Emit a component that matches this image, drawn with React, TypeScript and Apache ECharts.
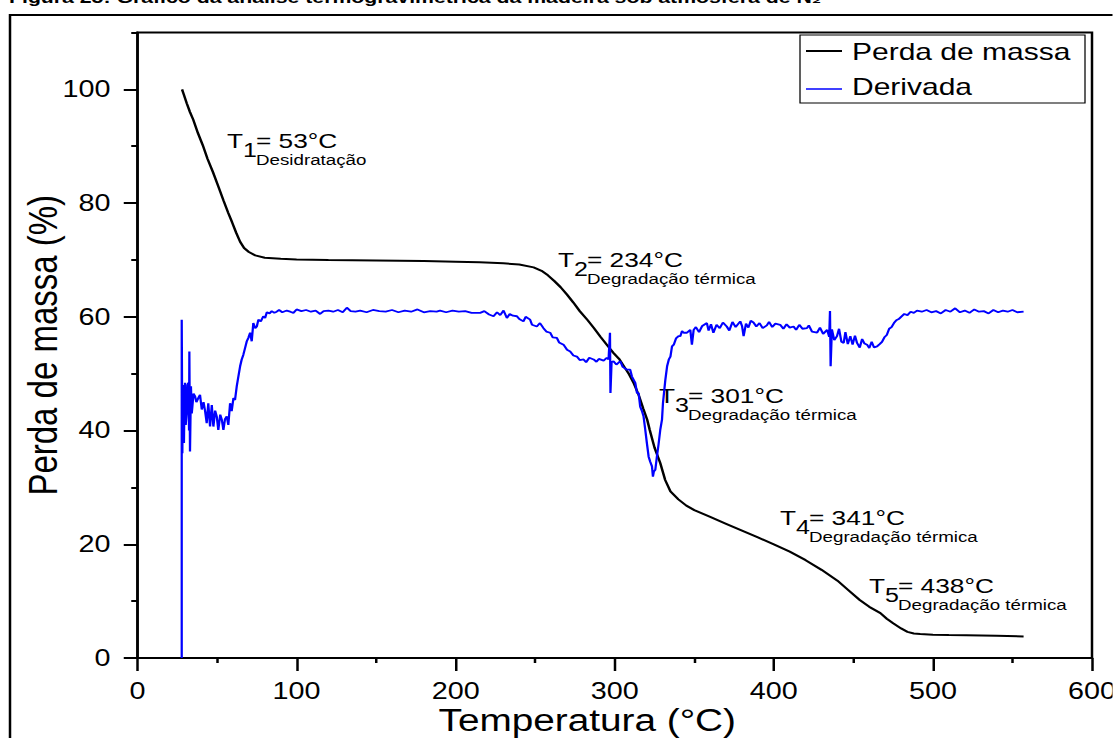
import { useEffect, useRef } from "react";
import * as echarts from "echarts";

// Mass loss (%) versus temperature (°C)
const perdaDeMassa: [number, number][] = [
  [28, 100], [29, 99.2], [31, 97.5], [33, 96], [35, 94.7], [38, 92.3], [41, 90.2], [44, 87.8],
  [47.5, 85.4], [51, 82.8], [54, 80.5], [57, 78.3], [59.5, 76.6], [62, 74.8], [64.5, 73.2],
  [67, 72.1], [70, 71.4], [74, 70.8], [80, 70.4], [90, 70.2], [100, 70.1], [120, 70],
  [150, 69.9], [180, 69.8], [200, 69.7], [215, 69.6], [230, 69.4], [240, 69.2], [249, 68.7],
  [254, 68.1], [258, 67.3], [262, 66.3], [266, 65.2], [270, 63.9], [274, 62.5], [278, 61],
  [283, 59.4], [287, 58], [291, 56.5], [295, 55.1], [299, 53.7], [303, 52.5], [306, 51.2],
  [309, 49.9], [312, 48.3], [315, 46.3], [318, 43.8], [320.4, 41.9], [322, 40.1], [325, 37],
  [328.6, 34.3], [331.7, 31.3], [335, 29.3], [340, 27.9], [345, 26.8], [350, 26], [360, 24.8],
  [370, 23.6], [380, 22.4], [390, 21.2], [400, 20], [410, 18.7], [420, 17.2], [430, 15.5],
  [440, 13.6], [447, 11.9], [454, 10.2], [460, 9], [467, 7.9], [471, 6.9], [475, 6.1],
  [480, 5.2], [484, 4.6], [488, 4.3], [492, 4.2], [500, 4.1], [510, 4.05], [521, 4],
  [540, 3.9], [557, 3.8],
];

// Derivative curve, drawn on the same percentage axis
const derivada: [number, number][] = [
  [27.8, 0], [27.8, 59.5], [28.2, 36], [28.5, 48], [28.8, 43.1], [29.2, 37.8], [29.6, 47],
  [29.9, 48.4], [30.3, 41], [30.9, 43.1], [31.4, 48], [32, 48.4], [32.4, 40], [32.6, 53.9],
  [33, 36.3], [33.6, 47.8], [34.1, 43], [34.5, 44.2], [35.2, 46.5], [36.2, 46], [37, 45],
  [38.2, 45.7], [39.3, 46.3], [40.4, 43.7], [41.5, 45], [42.5, 43.4], [43.5, 41.3], [44.5, 44.8],
  [45.6, 40.7], [46.7, 44.5], [47.7, 40.7], [48.8, 43.5], [49.8, 42.5], [50.8, 40.1], [52, 42.8],
  [53, 41.9], [54, 40.1], [55, 42], [56.1, 42.5], [57.1, 41], [58.2, 44.8], [59.2, 43.4],
  [60.3, 45.7], [61.3, 45.4], [62.4, 47.8], [63.4, 49.5], [64.5, 51.3], [65.5, 52.5],
  [66.5, 53.3], [67.6, 54.5], [68.7, 55.7], [69.7, 56.3], [70.8, 57.2], [71.8, 55.7],
  [72.8, 58.9], [74, 58], [75, 58.3], [76, 59.5], [77.5, 59.2], [79.1, 60.1], [80.2, 59.8],
  [81.3, 60.8], [83, 60.6], [84.4, 61], [86, 60.7], [87.5, 60.9], [89, 61.2], [91, 60.8],
  [93.8, 61.1], [96, 60.9], [98, 60.7], [100, 61.3], [103, 61], [106, 61.2], [109, 60.9],
  [112, 61.1], [114.8, 60.5], [117, 61], [120, 61.1], [123, 60.9], [126, 61.2], [129, 60.8],
  [131.6, 61.6], [134, 61], [137, 60.9], [140, 61.1], [144, 60.8], [148, 61.2], [152, 61],
  [156, 60.9], [160, 61.2], [164, 60.8], [168, 61.1], [172, 60.9], [176, 61.3], [180, 60.8],
  [184, 61], [188, 60.9], [190.2, 61.1], [194, 60.8], [198, 61.1], [202, 60.9], [206, 61],
  [210, 60.7], [215.4, 60.7], [218, 61], [221, 60.4], [223.8, 60.1], [226, 60.8], [228, 60.3],
  [230.1, 61.1], [232.2, 59.8], [234, 60.5], [236, 60.2], [238.5, 60.1], [240, 59.6],
  [242.6, 59.2], [244, 60], [246.8, 59.5], [248, 58.6], [251, 58.3], [253, 58.9], [255.2, 58],
  [257, 57.4], [259.4, 57.2], [261, 56.4], [263.6, 56.3], [265, 55.5], [267.8, 55.1],
  [270, 54.2], [272, 53.9], [274, 53.2], [276.2, 53], [278, 52.4], [280.4, 52.5], [282, 52],
  [284, 52.8], [286.7, 52.5], [288.5, 52.1], [290, 52.6], [293, 52.3], [295, 52.8],
  [296.1, 52.5], [297, 57.2], [297.3, 46.6], [298, 52], [299.2, 52.2], [301, 51.6],
  [303.5, 52.2], [305, 51.2], [307.7, 50.7], [309.7, 50.7], [310.8, 49.5], [312.9, 48.4],
  [314, 46.6], [315, 46.6], [316, 44.2], [317, 43.5], [318.1, 42.5], [319.2, 40.1],
  [320.2, 37.8], [321.3, 35.4], [322.3, 34.5], [323.4, 33.7], [324, 31.9], [324.6, 32.8],
  [325.5, 33.1], [326.5, 35.4], [327.5, 37.5], [328.6, 40.1], [329.7, 41.9], [330.3, 44.8],
  [331.8, 48.9], [332.9, 51.3], [334, 52.5], [335, 53], [336, 54.8], [337.1, 55.1],
  [338.5, 56.2], [340.1, 56.6], [341.2, 56.6], [342.3, 57.5], [343.3, 57.2], [345.4, 57.2],
  [347.5, 57.7], [348.5, 55.1], [349.6, 57.7], [351, 58.2], [353, 57.3], [355, 58.4],
  [357.9, 58.9], [359, 57.6], [360.5, 58.7], [362, 57.2], [364, 58.6], [366, 58], [368, 59],
  [370.4, 58.3], [372, 57.6], [374, 59.1], [376, 58.2], [378.9, 59.2], [380, 58.4], [381, 56.6],
  [382.5, 58.8], [384, 58.1], [385.5, 59.3], [387.2, 59], [389, 58.3], [391, 58.9], [393, 58],
  [395.6, 58.5], [397, 59.1], [399, 58.2], [401, 58.8], [404, 58.6], [406, 57.9], [408, 58.7],
  [410, 58.1], [412.4, 58.3], [414, 57.7], [416, 58.6], [418, 57.9], [420.8, 58], [422, 58.5],
  [424, 57.4], [427.2, 57.2], [429, 58.1], [431, 57], [433.5, 57.7], [434.8, 56.5], [435.3, 61],
  [435.7, 51.3], [436.5, 57.8], [438, 55.9], [439.7, 56.6], [441, 57.9], [442.5, 55.6],
  [443.9, 55.4], [445, 57.3], [446.5, 55.2], [448.1, 56.6], [449.5, 55.1], [451, 56.7],
  [452.3, 55.4], [454, 54.6], [455.5, 56.1], [457, 55.3], [458.6, 55.1], [460, 54.5],
  [461.5, 55.6], [463, 54.6], [464.9, 54.8], [466.5, 55.2], [468, 55.6], [469.5, 56.4],
  [471, 56.8], [472.5, 57.9], [474, 58.2], [475.5, 58.9], [477, 59.4], [478.5, 59.6], [480, 60],
  [482, 60.5], [484, 60.3], [486, 60.9], [488, 60.7], [490, 61.1], [493, 60.9], [496, 61.2],
  [499, 60.8], [502, 61], [505, 60.6], [508, 61.2], [511, 60.9], [514, 61.5], [517, 60.8],
  [520, 61.1], [523, 60.7], [526, 61.3], [529, 60.9], [532, 61], [535, 60.6], [538, 61.2],
  [541, 60.8], [544, 61.1], [547, 60.9], [550, 61.2], [553, 60.8], [557, 60.9],
];

const yMajorTicks = [0, 20, 40, 60, 80, 100];
const yMinorTicks = [10, 30, 50, 70, 90, 110];

// Thermal events: T index, temperature text, stage
const eventoIndice = ["1", "2", "3", "4", "5"];
const eventoValor = ["= 53°C", "= 234°C", "= 301°C", "= 341°C", "= 438°C"];
const eventoEtapa = [
  "Desidratação",
  "Degradação térmica",
  "Degradação térmica",
  "Degradação térmica",
  "Degradação térmica",
];

// The figure is drawn narrow and widened by a horizontal scale
const SX = 1.25;
const PAGE_W = 1113;
const PAGE_H = 738;
const W0 = PAGE_W / SX;
const X = (px: number) => px / SX;

const FONT = "'Liberation Sans', Arial, Helvetica, sans-serif";

// Label anchors on the page (left edge of "T", centre of its cap height)
const eventoLayout = [
  { left: 227, mid: 140.5 },
  { left: 558, mid: 259 },
  { left: 659, mid: 395.5 },
  { left: 780, mid: 517 },
  { left: 869, mid: 585 },
];

function txt(text: string, x: number, y: number, size: number, extra: Record<string, unknown> = {}) {
  return {
    type: "text",
    x,
    y,
    silent: true,
    style: {
      text,
      fontSize: size,
      fontFamily: FONT,
      fill: "#000",
      align: "left",
      verticalAlign: "middle",
      ...extra,
    },
  };
}

function buildOption(): echarts.EChartsOption {
  const tickLine = { color: "#000", width: 2 };
  const plotLeft = 137.5;
  const plotRight = 1092;
  const plotTop = 32.5;
  const plotBottom = 658;

  const eventos = eventoLayout.map((p, i) => ({
    type: "group",
    x: X(p.left),
    y: p.mid,
    children: [
      txt("T", 0, 0, 21),
      txt(eventoIndice[i], X(16), 10, 20),
      txt(eventoValor[i], X(29), 0, 21),
      txt(eventoEtapa[i], X(29), 20, 15),
    ],
  }));

  const legenda = [
    {
      type: "rect",
      silent: true,
      shape: { x: X(800), y: 35, width: X(285), height: 68 },
      style: { fill: "#fff", stroke: "#000", lineWidth: 1 },
    },
    {
      type: "line",
      silent: true,
      shape: { x1: X(806), y1: 51, x2: X(842), y2: 51 },
      style: { stroke: "#000", lineWidth: 2 },
    },
    {
      type: "line",
      silent: true,
      shape: { x1: X(806), y1: 89, x2: X(842), y2: 89 },
      style: { stroke: "#0000ff", lineWidth: 1.5 },
    },
    txt("Perda de massa", X(852), 52, 24),
    txt("Derivada", X(852), 87, 24),
  ];

  return {
    animation: false,
    backgroundColor: "#fff",
    grid: {
      left: X(plotLeft),
      top: plotTop,
      width: X(plotRight - plotLeft),
      height: plotBottom - plotTop,
      show: true,
      borderColor: "#000",
      borderWidth: 2,
      backgroundColor: "transparent",
      containLabel: false,
      outerBoundsMode: "none",
    } as any,
    xAxis: {
      type: "value",
      min: 0,
      max: 600,
      interval: 100,
      position: "bottom",
      axisLine: { show: true, onZero: false, lineStyle: tickLine },
      axisTick: { show: true, inside: false, length: 13, lineStyle: tickLine },
      minorTick: { show: true, splitNumber: 2, length: 5, lineStyle: tickLine },
      splitLine: { show: false },
      minorSplitLine: { show: false },
      axisLabel: {
        color: "#000",
        fontSize: 23,
        lineHeight: 21,
        fontFamily: FONT,
        margin: 23,
        showMinLabel: true,
        showMaxLabel: true,
        hideOverlap: false,
      },
      name: "Temperatura (°C)",
      nameLocation: "middle",
      nameGap: 50,
      nameMoveOverlap: false,
      nameTextStyle: {
        color: "#000",
        fontSize: 31,
        lineHeight: 24,
        fontFamily: FONT,
        padding: [0, 44, 0, 0],
      },
    } as any,
    yAxis: [
      {
        type: "value",
        min: 0,
        max: 110,
        interval: 20,
        position: "left",
        axisLine: { show: true, onZero: false, lineStyle: tickLine },
        axisTick: { show: true, inside: false, length: 11, lineStyle: tickLine, customValues: yMajorTicks },
        splitLine: { show: false },
        axisLabel: {
          color: "#000",
          fontSize: 23,
          fontFamily: FONT,
          margin: X(27),
          customValues: yMajorTicks,
        },
        name: "Perda de massa (%)",
        nameLocation: "middle",
        nameRotate: 90,
        nameGap: X(74),
        nameMoveOverlap: false,
        nameTextStyle: { color: "#000", fontSize: 33, fontFamily: FONT },
      } as any,
      {
        type: "value",
        min: 0,
        max: 110,
        interval: 10,
        position: "left",
        axisLine: { show: false },
        axisTick: { show: true, inside: false, length: 5, lineStyle: tickLine, customValues: yMinorTicks },
        axisLabel: { show: false },
        splitLine: { show: false },
      } as any,
    ],
    series: [
      {
        type: "line",
        name: "Perda de massa",
        data: perdaDeMassa,
        symbol: "none",
        showSymbol: false,
        lineStyle: { color: "#000", width: 2 },
        itemStyle: { color: "#000" },
        z: 2,
      },
      {
        type: "line",
        name: "Derivada",
        data: derivada,
        symbol: "none",
        showSymbol: false,
        lineStyle: { color: "#0000ff", width: 1.8 },
        itemStyle: { color: "#0000ff" },
        z: 3,
      },
    ],
    graphic: [
      {
        type: "rect",
        silent: true,
        z: 0,
        shape: { x: X(10), y: 15, width: X(1300), height: 900 },
        style: { fill: "none", stroke: "#000", lineWidth: 2 },
      },
      txt(
        "Figura 25: Gráfico da análise termogravimétrica da madeira sob atmosfera de N₂",
        X(9),
        -3.2,
        17,
        { fontWeight: "bold" }
      ),
      ...eventos,
      ...legenda,
    ] as any,
  };
}

export default function App() {
  const ref = useRef<HTMLDivElement>(null);

  useEffect(() => {
    const el = ref.current;
    if (!el) return;
    const chart = echarts.init(el, null, { renderer: "svg" });
    chart.setOption(buildOption());
    return () => {
      chart.dispose();
    };
  }, []);

  return (
    <div
      ref={ref}
      style={{
        position: "fixed",
        left: 0,
        top: 0,
        width: W0,
        height: PAGE_H,
        transform: `scaleX(${SX})`,
        transformOrigin: "0 0",
        background: "#fff",
      }}
    />
  );
}
